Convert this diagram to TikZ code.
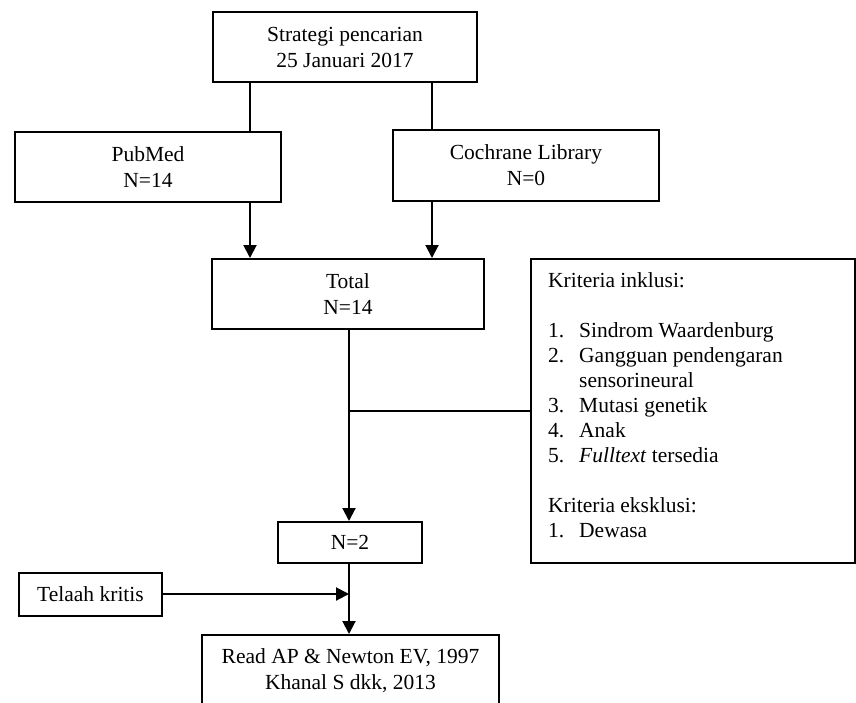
\documentclass[tikz,border=0pt]{standalone}
\usepackage{fontspec}
\setmainfont{Liberation Serif}
\usetikzlibrary{arrows.meta}
\begin{document}
\begin{tikzpicture}[x=1pt,y=-1pt,
  box/.style={draw, line width=2pt, align=center, inner sep=0pt,
    font=\fontsize{21.5}{26}\selectfont},
  conn/.style={line width=2pt},
  arr/.style={line width=2pt, -{Triangle[length=13pt,width=13pt]}},
  lbl/.style={inner sep=0pt, font=\fontsize{21.5}{25}\selectfont}]
\useasboundingbox (0,0) rectangle (856,702);
\node[box, minimum width=264pt, minimum height=70pt] (top) at (345,47) {Strategi pencarian\\25 Januari 2017};
\node[box, minimum width=266pt, minimum height=70pt] (pubmed) at (148,167) {PubMed\\N=14};
\node[box, minimum width=266pt, minimum height=71pt] (cochrane) at (526,165.5) {Cochrane Library\\N=0};
\node[box, minimum width=272pt, minimum height=70pt] (total) at (348,294) {Total\\N=14};
\node[box, minimum width=324pt, minimum height=304pt] (crit) at (693,411) {};
\node[lbl, anchor=base west] (crittext) at (548,287) {\begin{tabular}[t]{@{}p{31pt}@{}l@{}}
\multicolumn{2}{@{}l@{}}{Kriteria inklusi:}\\
\\
1. & Sindrom Waardenburg\\
2. & Gangguan pendengaran\\
   & sensorineural\\
3. & Mutasi genetik\\
4. & Anak\\
5. & \textit{Fulltext} tersedia\\
\\
\multicolumn{2}{@{}l@{}}{Kriteria eksklusi:}\\
1. & Dewasa
\end{tabular}};
\node[box, minimum width=144pt, minimum height=41pt] (n2) at (350,542.5) {N=2};
\node[box, minimum width=143pt, minimum height=43pt] (telaah) at (90.5,594) {Telaah kritis};
\node[box, minimum width=297pt, minimum height=72pt] (result) at (350.5,671) {Read AP \& Newton EV, 1997\\Khanal S dkk, 2013};
\coordinate (pmx) at (250,0);
\coordinate (cox) at (432,0);
\coordinate (mid) at (349,0);
\coordinate (join) at (349,411);
\coordinate (tjoin) at (349,594);
\draw[conn] (top.south -| pmx) -- (pubmed.north -| pmx);
\draw[conn] (top.south -| cox) -- (cochrane.north -| cox);
\draw[arr] (pubmed.south -| pmx) -- (total.north -| pmx);
\draw[arr] (cochrane.south -| cox) -- (total.north -| cox);
\draw[arr] (total.south -| mid) -- (n2.north -| mid);
\draw[conn] (join) -- (crit.west |- join);
\draw[arr] (telaah.east) -- (tjoin);
\draw[arr] (n2.south -| mid) -- (result.north -| mid);
\end{tikzpicture}
\end{document}
